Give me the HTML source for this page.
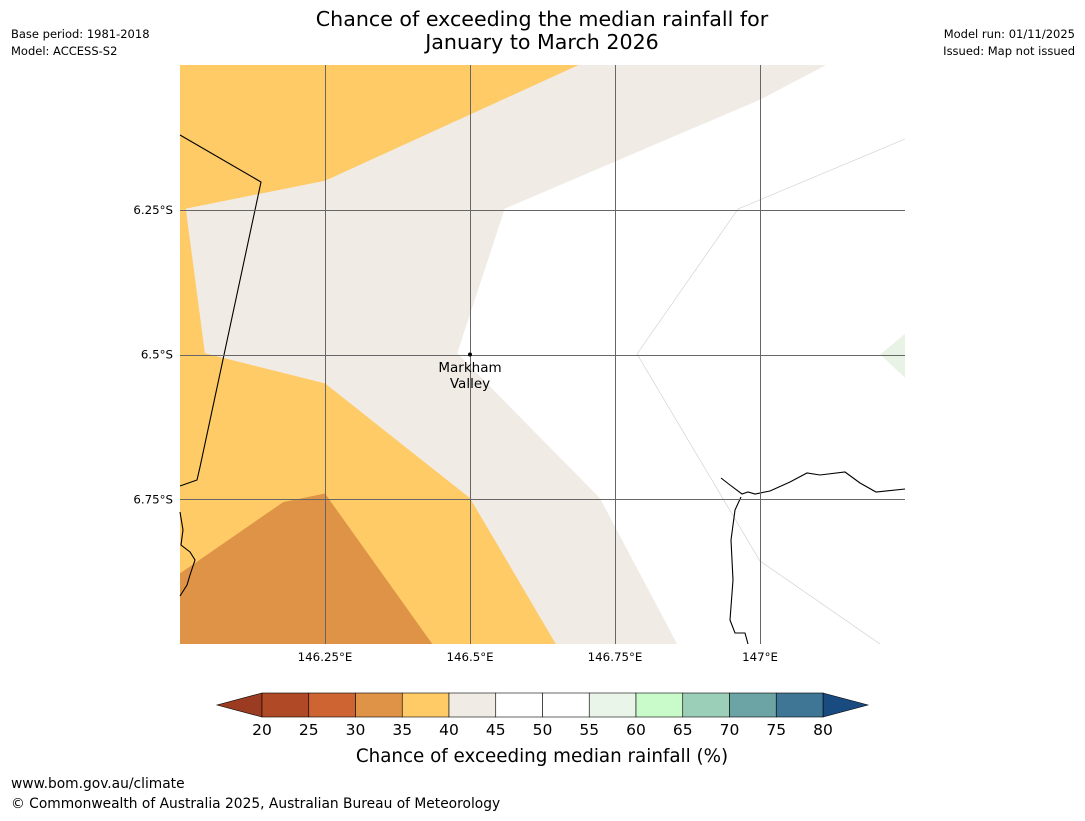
<!DOCTYPE html>
<html><head><meta charset="utf-8"><style>
body{margin:0;background:#fff;width:1085px;height:816px;overflow:hidden;font-family:"Liberation Sans","DejaVu Sans",sans-serif;}
svg text{font-family:"DejaVu Sans","Liberation Sans",sans-serif;}
</style></head><body>
<svg id="chart" width="1085" height="816" xmlns="http://www.w3.org/2000/svg">
<text x="542" y="26" font-size="20.6" text-anchor="middle">Chance of exceeding the median rainfall for</text>
<text x="542" y="49" font-size="20.6" text-anchor="middle">January to March 2026</text>
<text x="11" y="38" font-size="11.5">Base period: 1981-2018</text>
<text x="11" y="55" font-size="11.5">Model: ACCESS-S2</text>
<text x="1075" y="38" font-size="11.5" text-anchor="end">Model run: 01/11/2025</text>
<text x="1075" y="55" font-size="11.5" text-anchor="end">Issued: Map not issued</text>
<g id="map"></g>
<g id="cbar"></g>
<text x="542" y="762" font-size="18.3" text-anchor="middle">Chance of exceeding median rainfall (%)</text>
<text x="11" y="788" font-size="13.8">www.bom.gov.au/climate</text>
<text x="11" y="808" font-size="13.8">© Commonwealth of Australia 2025, Australian Bureau of Meteorology</text>
</svg>
<script>
const NS="http://www.w3.org/2000/svg";
const lonTicks=[146.25,146.5,146.75,147];
const lonLabels=["146.25°E","146.5°E","146.75°E","147°E"];
const latTicks=[6.25,6.5,6.75];
const latLabels=["6.25°S","6.5°S","6.75°S"];
const cbLevels=[20,25,30,35,40,45,50,55,60,65,70,75,80];
const cbColors=["#b04a26","#cd6432","#df9346","#fecb66","#f0ebe5","#ffffff","#ffffff","#eaf5e9","#c9fac9","#9bcfb8","#6ca3a5","#3f7696"];
const X0=180,X1=905,Y0=65,Y1=644;
const sx=lon=>X0+(lon-146)/1.25*(X1-X0);
const sy=lat=>Y0+(lat-6)/1.0*(Y1-Y0);
const map=document.getElementById('map');
function mk(tag,attrs,parent){const e=document.createElementNS(NS,tag);for(const k in attrs)e.setAttribute(k,attrs[k]);parent.appendChild(e);return e;}
const P=pts=>pts.map(p=>sx(p[0]).toFixed(1)+','+sy(p[1]).toFixed(1)).join(' ');
const beige=[[146.687,6],[147.114,6],[147,6.06],[146.56,6.248],[146.478,6.498],[146.724,6.748],[146.857,7],[146,7],[146,6]];
const orange=[[146,6],[146.687,6],[146.25,6.2],[146.01,6.248],[146.043,6.498],[146.25,6.55],[146.5,6.748],[146.648,7],[146,7]];
const dark=[[146,6.878],[146.178,6.755],[146.25,6.74],[146.435,7],[146,7]];
const green=[[147.207,6.5],[147.25,6.464],[147.25,6.54]];
let e;
e=mk('rect',{x:X0,y:Y0,width:X1-X0,height:Y1-Y0,fill:'#fff'},map);

e=mk('polygon',{points:P(beige),fill:'#f0ebe5'},map);

e=mk('polygon',{points:P(orange),fill:'#fecb66'},map);

e=mk('polygon',{points:P(dark),fill:'#df9346'},map);

e=mk('polygon',{points:P(green),fill:'#e8f3e6'},map);

e=mk('polyline',{points:'905,139 738,209 637,354 760,561 880,644',fill:'none',stroke:'#ccc','stroke-width':0.6},map);

const coasts=['180,135 261,182 200,467 197,480 180,486','180,512 183,530 181,545 190,552 195,560 190,575 187,585 180,596',
'721,478 730,485 742,494 748,492 755,494 770,491 790,482 807,473 820,475 845,472 860,483 876,492 905,489',
'741,497 735,510 731,540 733,580 730,620 735,633 745,633 748,644'];
coasts.forEach(c=>{e=mk('polyline',{points:c,fill:'none',stroke:'#000','stroke-width':1.1},map);
});
lonTicks.forEach((v,i)=>{const x=Math.round(sx(v))+0.5;
e=mk('line',{x1:x,y1:Y0,x2:x,y2:Y1,stroke:'#666','stroke-width':1,'shape-rendering':'crispEdges'},map);

e=mk('text',{x:sx(v),y:661,'font-size':11.8,'text-anchor':'middle'},map);e.textContent=lonLabels[i];
});
latTicks.forEach((v,i)=>{const y=Math.round(sy(v))+0.5;
e=mk('line',{x1:X0,y1:y,x2:X1,y2:y,stroke:'#666','stroke-width':1,'shape-rendering':'crispEdges'},map);

e=mk('text',{x:173,y:sy(v)+4,'font-size':11.8,'text-anchor':'end'},map);e.textContent=latLabels[i];
});
e=mk('circle',{cx:sx(146.5),cy:sy(6.5),r:2,fill:'#000'},map);

e=mk('text',{x:470,y:372,'font-size':13.5,'text-anchor':'middle'},map);e.textContent='Markham';

e=mk('text',{x:470,y:388,'font-size':13.5,'text-anchor':'middle'},map);e.textContent='Valley';

const cb=document.getElementById('cbar');
const CX0=262,CX1=823,CY0=693,CY1=717;
const cx=v=>CX0+(v-cbLevels[0])/(cbLevels[cbLevels.length-1]-cbLevels[0])*(CX1-CX0);
e=mk('polygon',{points:`${CX0},${CY0} 217,705 ${CX0},${CY1}`,fill:'#9a3b22',stroke:'#000','stroke-width':0.6},cb);

e=mk('polygon',{points:`${CX1},${CY0} 868,705 ${CX1},${CY1}`,fill:'#1a4b80',stroke:'#000','stroke-width':0.6},cb);

cbColors.forEach((c,i)=>{const a=cx(cbLevels[i]),b=cx(cbLevels[i+1]);
e=mk('rect',{x:a,y:CY0,width:b-a,height:CY1-CY0,fill:c,stroke:'#000','stroke-width':0.6},cb);
});
cbLevels.forEach(v=>{
e=mk('text',{x:cx(v),y:735,'font-size':15.5,'text-anchor':'middle'},cb);e.textContent=v;
});
</script>
</body></html>
